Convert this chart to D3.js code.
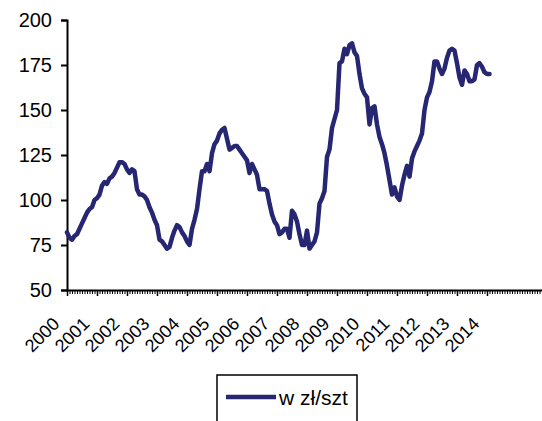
<!DOCTYPE html>
<html>
<head>
<meta charset="utf-8">
<script src="https://cdnjs.cloudflare.com/ajax/libs/d3/7.8.5/d3.min.js"></script>
<style>
  html, body { margin: 0; padding: 0; background: #fff; }
  svg { display: block; font-family: "Liberation Sans", Arial, sans-serif; }
</style>
</head>
<body>
<svg id="chart" width="542" height="421"></svg>
<script>
// ---- data ----
const startYear = 2000;
const yearLabels = ["2000","2001","2002","2003","2004","2005","2006","2007","2008","2009","2010","2011","2012","2013","2014"];
const yTicks = [50, 75, 100, 125, 150, 175, 200];
const seriesName = "w zł/szt";
// monthly values, Jan 2000 .. Feb 2014
const values = [
  82, 79, 78, 80, 81, 84, 87, 90, 93, 95, 96, 100,
  101, 103, 108, 110, 109, 112, 113, 115, 118, 121, 121, 120,
  117, 115, 117, 116, 106, 103, 103, 102, 100, 96, 93, 89,
  86, 78, 77, 75, 73, 74, 79, 83, 86, 85, 82, 80,
  77, 75, 84, 89, 95, 106, 116, 116, 120, 116, 126, 131,
  133, 137, 139, 140, 134, 128, 129, 130, 130, 128, 126, 124,
  122, 115, 120, 117, 114, 106, 106, 106, 105, 98, 92, 88,
  86, 81, 82, 84, 84, 79, 94, 92, 88, 81, 75, 75,
  83, 73, 75, 77, 82, 98, 101, 105, 124, 128, 140, 145,
  150, 176, 177, 184, 181, 186, 187, 182, 180, 170, 162, 159,
  157, 142, 151, 152, 142, 135, 131, 126, 119, 111, 103, 107,
  102, 100, 108, 114, 119, 113, 123, 127, 130, 133, 137, 150,
  157, 160, 166, 177, 177, 173, 170, 173, 179, 183, 184, 183,
  176, 168, 164, 172, 170, 166, 166, 167, 175, 176, 174, 171,
  170, 170
];
const months = values.map((v, i) => i);

// ---- chart ----
const svg = d3.select("#chart");
const totalMonths = (yearLabels.length + 1) * 12; // axis runs to 2015

const x = d3.scaleLinear().domain([0, totalMonths]).range([67, 547]);
const y = d3.scaleLinear().domain([50, 200]).range([290, 20]);

const color = "#262672";

// y axis
const yAxis = d3.axisLeft(y).tickValues(yTicks).tickSize(6).tickPadding(9).tickFormat(d3.format("d"));
const gy = svg.append("g").attr("transform", `translate(${x(0)},0)`).call(yAxis);
gy.select(".domain").attr("stroke", "#000").attr("stroke-width", 2);
gy.selectAll(".tick line").attr("stroke", "#000").attr("stroke-width", 2);
gy.selectAll(".tick text").attr("font-size", 20).attr("fill", "#000")
  .attr("font-family", "Liberation Sans, Arial, sans-serif");

// x axis minor (monthly) ticks
const minor = d3.axisBottom(x).tickValues(d3.range(0, totalMonths + 1)).tickSize(4).tickFormat("");
const gxm = svg.append("g").attr("transform", `translate(0,${y(50)})`).call(minor);
gxm.select(".domain").remove();
gxm.selectAll(".tick line").attr("stroke", "#000").attr("stroke-width", 1);

// x axis major (yearly) ticks + labels
const majorVals = yearLabels.map((d, i) => i * 12);
const major = d3.axisBottom(x).tickValues(majorVals).tickSize(6).tickSizeOuter(0)
  .tickFormat((d, i) => yearLabels[i]);
const gx = svg.append("g").attr("transform", `translate(0,${y(50)})`).call(major);
gx.select(".domain").attr("stroke", "#000").attr("stroke-width", 2);
gx.selectAll(".tick line").attr("stroke", "#000").attr("stroke-width", 1.5);
gx.selectAll(".tick text")
  .attr("font-size", 18).attr("fill", "#000")
  .attr("font-family", "Liberation Sans, Arial, sans-serif")
  .attr("text-anchor", "end")
  .attr("dy", null)
  .attr("y", 0)
  .attr("transform", "translate(-7,35) rotate(-45)");

// line
const line = d3.line().x((d, i) => x(months[i])).y(d => y(d));
svg.append("path")
  .datum(values)
  .attr("fill", "none")
  .attr("stroke", color)
  .attr("stroke-width", 4.5)
  .attr("stroke-linejoin", "round")
  .attr("stroke-linecap", "round")
  .attr("d", line);

// legend
const lg = svg.append("g");
lg.append("rect").attr("x", 217).attr("y", 375).attr("width", 140).attr("height", 60)
  .attr("fill", "none").attr("stroke", "#000").attr("stroke-width", 1.5);
lg.append("line").attr("x1", 226).attr("x2", 276).attr("y1", 397).attr("y2", 397)
  .attr("stroke", color).attr("stroke-width", 4.5);
lg.append("text").attr("x", 279).attr("y", 405).attr("font-size", 21).attr("fill", "#000")
  .text(seriesName);
</script>
</body>
</html>
